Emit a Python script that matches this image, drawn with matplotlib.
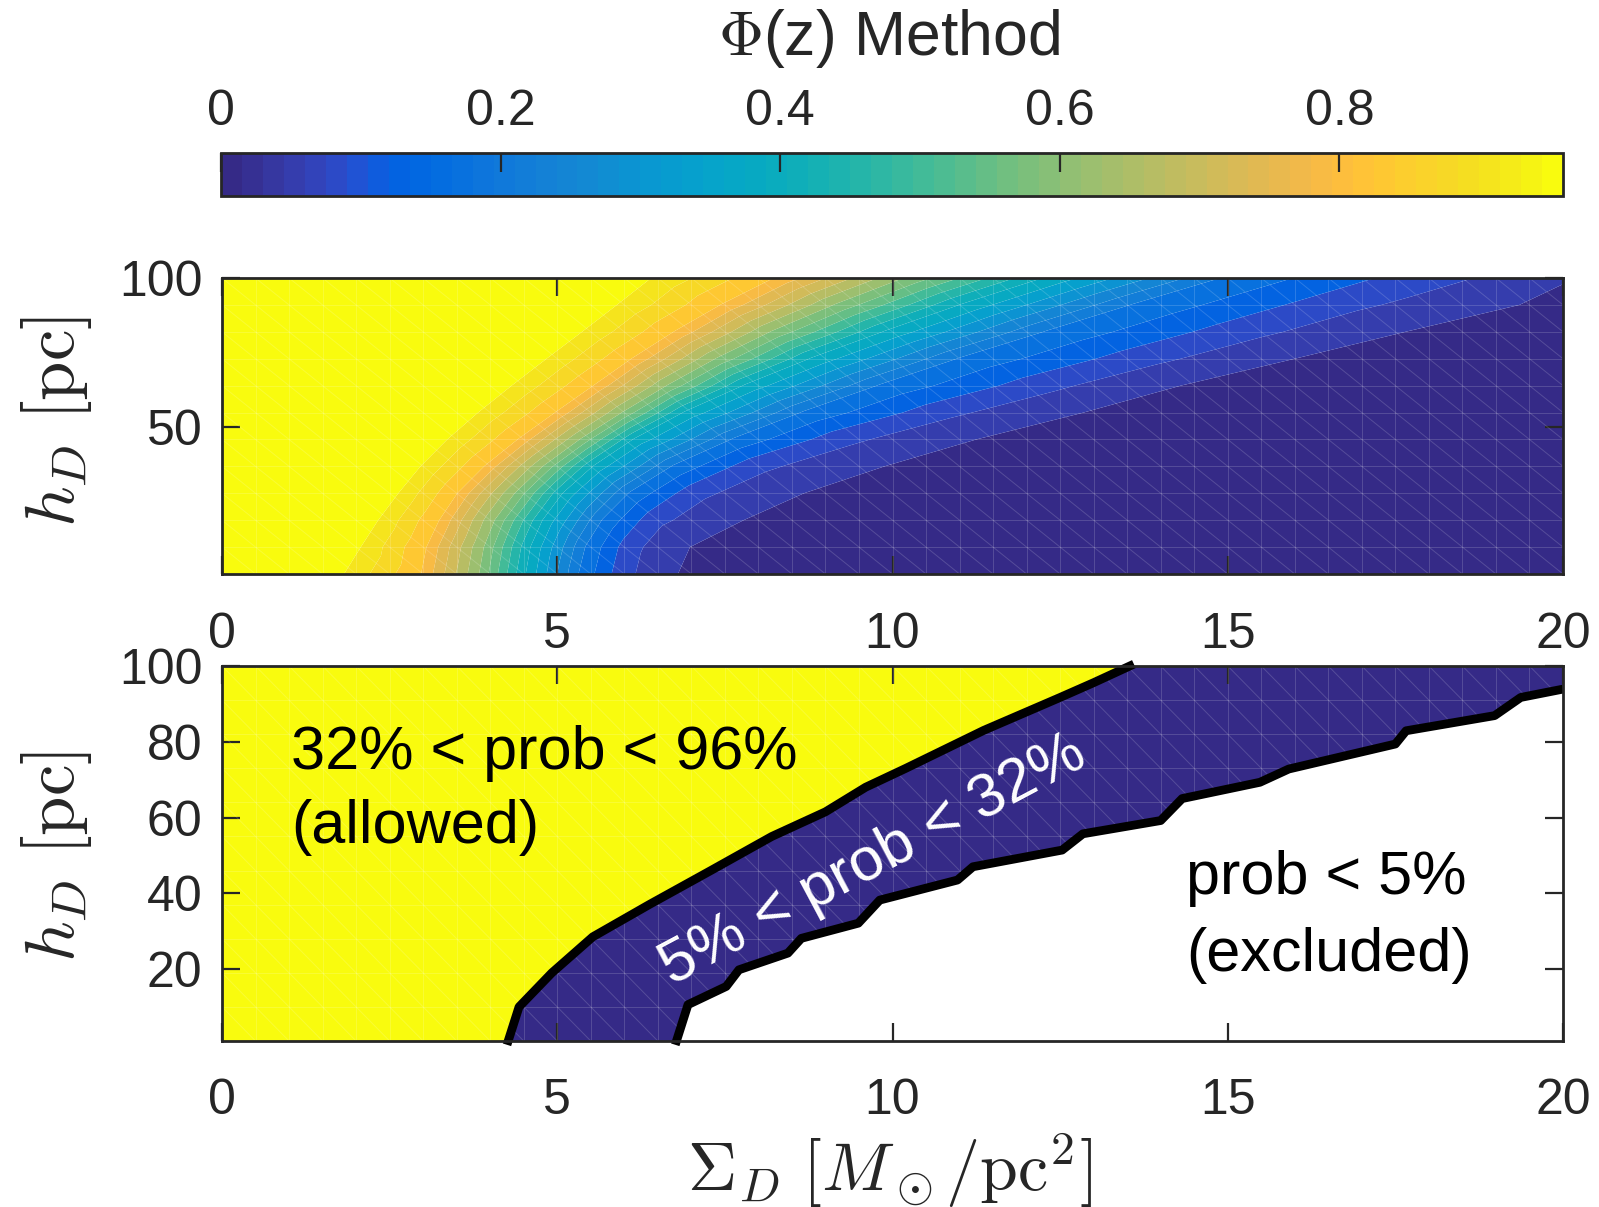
import numpy as np
import matplotlib
matplotlib.use("Agg")
import matplotlib.pyplot as plt
from matplotlib.colors import ListedColormap, Normalize
from matplotlib.collections import LineCollection
from matplotlib.patches import Polygon
from matplotlib.cm import ScalarMappable
import matplotlib.tri as mtri

plt.rcParams['font.family'] = ['Liberation Sans', 'DejaVu Sans']
plt.rcParams['mathtext.fontset'] = 'cm'

# ---------------- data ----------------
# top panel: Sigma_D where the probability crosses each level, along rows of constant h_D
h_rows = [1, 10, 19, 28, 37, 46, 55, 64, 73, 82, 91, 100]
levels_read = [0.92, 0.80, 0.60, 0.40, 0.20, 0.10, 0.05]
sig_092 = [1.82, 2.07, 2.33, 2.63, 2.96, 3.36, 3.82, 4.32, 4.84, 5.37, 5.89, 6.40]
sig_080 = [2.98, 3.06, 3.25, 3.52, 3.92, 4.42, 4.98, 5.55, 6.12, 6.75, 7.45, 8.25]
sig_060 = [3.85, 3.92, 4.08, 4.38, 4.80, 5.35, 5.98, 6.65, 7.38, 8.20, 9.15, 10.20]
sig_040 = [4.55, 4.62, 4.80, 5.10, 5.55, 6.15, 6.90, 7.80, 8.80, 9.90, 11.05, 12.30]
sig_020 = [5.35, 5.45, 5.70, 6.10, 6.75, 7.65, 8.70, 9.85, 11.05, 12.35, 13.65, 15.00]
sig_010 = [6.00, 6.10, 6.45, 7.05, 7.95, 9.25, 10.75, 12.30, 13.85, 15.35, 16.75, 18.10]
sig_005 = [6.80, 6.98, 7.78, 8.68, 9.88, 11.25, 12.85, 14.30, 16.00, 17.65, 19.35, np.nan]
p_sigma0 = [0.96] * 12
p_sigma20 = [0.0, 0.0, 0.0, 0.0, 0.0, 0.0, 0.0, 0.0, 0.0, 0.0, 0.0, 0.065]

# bottom panel: 32% and 5% boundaries
line32_sigma = [4.25, 4.43, 4.92, 5.53, 6.37, 7.29, 8.20, 9.00, 9.60, 10.20, 11.36, 12.50, 13.00, 13.60]
line32_h = [0.0, 10.0, 19.0, 28.5, 37.0, 46.0, 55.0, 61.5, 68.0, 73.0, 83.0, 91.7, 95.6, 100.5]
line05_sigma = [6.76, 6.95, 7.52, 7.71, 8.44, 8.64, 9.49, 9.81, 10.97, 11.20, 12.53, 12.84,
                14.00, 14.32, 15.48, 15.91, 17.50, 17.66, 18.98, 19.37, 20.00]
line05_h = [0.0, 10.6, 15.4, 19.8, 24.2, 28.1, 32.1, 38.2, 43.5, 47.0, 51.4, 55.7,
            59.2, 65.0, 69.3, 72.8, 79.4, 82.9, 86.9, 91.7, 93.9]

cbar_ticks = [0, 0.2, 0.4, 0.6, 0.8]
x_ticks = [0, 5, 10, 15, 20]

# ---------------- colormap (parula, 64 entries) ----------------
parula = [
    [0.2081, 0.1663, 0.5292], [0.2116, 0.1898, 0.5777], [0.2123, 0.2138, 0.6270], [0.2081, 0.2386, 0.6771],
    [0.1959, 0.2645, 0.7279], [0.1707, 0.2919, 0.7792], [0.1253, 0.3242, 0.8303], [0.0591, 0.3598, 0.8683],
    [0.0117, 0.3875, 0.8820], [0.0060, 0.4086, 0.8828], [0.0165, 0.4266, 0.8786], [0.0329, 0.4430, 0.8720],
    [0.0498, 0.4586, 0.8641], [0.0629, 0.4737, 0.8554], [0.0723, 0.4887, 0.8467], [0.0779, 0.5040, 0.8384],
    [0.0793, 0.5200, 0.8312], [0.0749, 0.5375, 0.8263], [0.0641, 0.5570, 0.8240], [0.0488, 0.5772, 0.8228],
    [0.0343, 0.5966, 0.8199], [0.0265, 0.6137, 0.8135], [0.0239, 0.6287, 0.8038], [0.0231, 0.6418, 0.7913],
    [0.0228, 0.6535, 0.7768], [0.0267, 0.6642, 0.7607], [0.0384, 0.6743, 0.7436], [0.0590, 0.6838, 0.7254],
    [0.0843, 0.6928, 0.7062], [0.1133, 0.7015, 0.6859], [0.1453, 0.7098, 0.6646], [0.1801, 0.7177, 0.6424],
    [0.2178, 0.7250, 0.6193], [0.2586, 0.7317, 0.5954], [0.3022, 0.7376, 0.5712], [0.3482, 0.7424, 0.5473],
    [0.3953, 0.7459, 0.5244], [0.4420, 0.7481, 0.5033], [0.4871, 0.7491, 0.4840], [0.5300, 0.7491, 0.4661],
    [0.5709, 0.7485, 0.4494], [0.6099, 0.7473, 0.4337], [0.6473, 0.7456, 0.4188], [0.6834, 0.7435, 0.4044],
    [0.7184, 0.7411, 0.3905], [0.7525, 0.7384, 0.3768], [0.7858, 0.7356, 0.3633], [0.8185, 0.7327, 0.3498],
    [0.8507, 0.7299, 0.3360], [0.8824, 0.7274, 0.3217], [0.9139, 0.7258, 0.3063], [0.9450, 0.7261, 0.2886],
    [0.9739, 0.7314, 0.2666], [0.9938, 0.7455, 0.2403], [0.9990, 0.7653, 0.2164], [0.9955, 0.7861, 0.1967],
    [0.9880, 0.8066, 0.1794], [0.9789, 0.8271, 0.1633], [0.9697, 0.8481, 0.1475], [0.9626, 0.8705, 0.1309],
    [0.9589, 0.8949, 0.1132], [0.9598, 0.9218, 0.0948], [0.9661, 0.9514, 0.0755], [0.9763, 0.9831, 0.0538]]
cmap = ListedColormap(parula)
NAVY = parula[0]
YELLOW = parula[-1]
DARK = '#262626'

# ---------------- figure / layout ----------------
W, H = 1599, 1207
fig = plt.figure(figsize=(W / 100, H / 100), dpi=100)


def rect(l, t, r, b):
    return [l / W, 1 - b / H, (r - l) / W, (b - t) / H]


cax = fig.add_axes(rect(221, 153, 1563, 196))
ax1 = fig.add_axes(rect(222, 278, 1563, 574))
ax2 = fig.add_axes(rect(222, 666, 1563, 1041))


def mesh_collection():
    sg = np.arange(0, 20.001, 0.5)
    hg = np.arange(1, 100.001, 9)
    segs = [[(s, hg[0]), (s, hg[-1])] for s in sg]
    segs += [[(sg[0], h), (sg[-1], h)] for h in hg]
    for i in range(len(sg) - 1):
        for j in range(len(hg) - 1):
            segs.append([(sg[i], hg[j + 1]), (sg[i + 1], hg[j])])
    return LineCollection(segs, colors='white', alpha=0.16, linewidths=0.7)


# ---------------- top panel ----------------
sig_by_level = [sig_092, sig_080, sig_060, sig_040, sig_020, sig_010, sig_005]
px, py, pz, rows = [], [], [], []
for i, h in enumerate(h_rows):
    idx = []
    pts = [(0.0, p_sigma0[i])]
    for L, sig in zip(levels_read, sig_by_level):
        if np.isfinite(sig[i]):
            pts.append((sig[i], L))
    pts.append((20.0, p_sigma20[i]))
    for s, v in pts:
        idx.append(len(px))
        px.append(s); py.append(h); pz.append(v)
    rows.append(idx)
pz = np.array(pz)

# strip triangulation between consecutive rows, walking along decreasing value
triangles = []
for a, b in zip(rows[:-1], rows[1:]):
    i = j = 0
    while i < len(a) - 1 or j < len(b) - 1:
        if i == len(a) - 1:
            adv_a = False
        elif j == len(b) - 1:
            adv_a = True
        else:
            adv_a = pz[a[i + 1]] >= pz[b[j + 1]]
        if adv_a:
            triangles.append([a[i], b[j], a[i + 1]]); i += 1
        else:
            triangles.append([a[i], b[j], b[j + 1]]); j += 1
triang = mtri.Triangulation(px, py, triangles=triangles)

levels = np.concatenate([[0.0], np.linspace(0.05, 0.92, 23), [0.97]])
nb = len(levels) - 1
band_colors = [parula[int(round(k / (nb - 1) * 63))] for k in range(nb)]
ax1.tricontourf(triang, pz, levels=levels, colors=band_colors, antialiased=True)
ax1.add_collection(mesh_collection())
ax1.set_xlim(0, 20)
ax1.set_ylim(1, 100)
ax1.set_xticks(x_ticks)
ax1.set_yticks([50, 100])

# ---------------- bottom panel ----------------
yel_xy = np.column_stack([[0.0] + line32_sigma + [0.0],
                          [line32_h[0]] + line32_h + [line32_h[-1]]])
navy_xy = np.column_stack([line32_sigma + [line05_sigma[-1]] + line05_sigma[::-1],
                           line32_h + [line32_h[-1]] + line05_h[::-1]])
yel_patch = Polygon(yel_xy, closed=True, facecolor=YELLOW, edgecolor='none')
navy_patch = Polygon(navy_xy, closed=True, facecolor=NAVY, edgecolor='none')
ax2.add_patch(yel_patch)
ax2.add_patch(navy_patch)
m1 = mesh_collection(); m1.set_clip_path(yel_patch)
m2 = mesh_collection(); m2.set_clip_path(navy_patch)
ax2.add_collection(m1)
ax2.add_collection(m2)
ax2.plot(line32_sigma, line32_h, color='black', lw=6.3, clip_on=False,
         solid_joinstyle='round', solid_capstyle='butt', zorder=5)
ax2.plot(line05_sigma, line05_h, color='black', lw=6.3, clip_on=False,
         solid_joinstyle='round', solid_capstyle='butt', zorder=5)
ax2.set_xlim(0, 20)
ax2.set_ylim(1, 100)
ax2.set_xticks(x_ticks)
ax2.set_yticks([20, 40, 60, 80, 100])

tfs = 44
ax2.text(1.03, 77, '32% < prob < 96%', fontsize=tfs, ha='left', va='center', color='black')
ax2.text(1.03, 57.3, '(allowed)', fontsize=tfs, ha='left', va='center', color='black')
ax2.text(9.72, 48.6, '5% < prob < 32%', fontsize=tfs, ha='center', va='center',
         rotation=28, rotation_mode='anchor', color='white')
ax2.text(14.38, 43.8, 'prob < 5%', fontsize=tfs, ha='left', va='center', color='black')
ax2.text(14.38, 23.7, '(excluded)', fontsize=tfs, ha='left', va='center', color='black')

for ax in (ax1, ax2):
    ax.tick_params(axis='both', direction='in', length=13, width=1.6, colors=DARK,
                   labelcolor=DARK, labelsize=36, top=True, right=True)
    ax.tick_params(axis='x', pad=27)
    ax.tick_params(axis='y', pad=14)
    for sp in ax.spines.values():
        sp.set_linewidth(2)
        sp.set_color(DARK)
        sp.set_zorder(6)

# ---------------- colorbar ----------------
sm = ScalarMappable(norm=Normalize(0, 0.96), cmap=cmap)
cb = fig.colorbar(sm, cax=cax, orientation='horizontal', ticks=cbar_ticks)
cb.ax.xaxis.set_ticks_position('top')
cb.ax.xaxis.set_label_position('top')
cb.set_ticklabels(['0', '0.2', '0.4', '0.6', '0.8'])
cb.ax.tick_params(direction='in', length=14, width=1.6, colors=DARK, labelcolor=DARK,
                  labelsize=36, pad=13)
cb.outline.set_linewidth(2)
cb.outline.set_edgecolor(DARK)

# ---------------- labels ----------------
fig.text(889 / W, 1 - 39 / H, r'$\Phi$(z) Method', fontsize=45, ha='center', va='center', color=DARK)
fig.text(57 / W, 1 - 422 / H, r'$h_D\ [\mathrm{pc}]$', fontsize=51, rotation=90,
         ha='center', va='center', color=DARK)
fig.text(57 / W, 1 - 857 / H, r'$h_D\ [\mathrm{pc}]$', fontsize=51, rotation=90,
         ha='center', va='center', color=DARK)
fig.text(889 / W, 1 - 1170 / H, r'$\Sigma_D\ [M_\odot/\mathrm{pc}^2]$', fontsize=49,
         ha='center', va='center', color=DARK)

fig.savefig('out.png', dpi=100)
